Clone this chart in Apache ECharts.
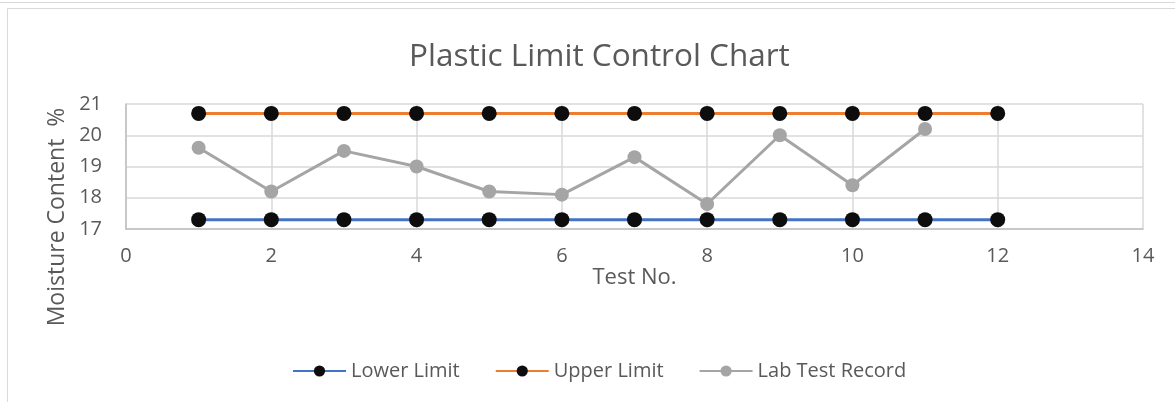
<!DOCTYPE html>
<html>
<head>
<meta charset="utf-8">
<script src="https://cdn.jsdelivr.net/npm/echarts@6/dist/echarts.min.js"></script>
<style>
  html, body { margin: 0; padding: 0; background: #fff; }
  #chart { width: 1175px; height: 402px; }
</style>
</head>
<body>
<div id="chart"></div>
<script>
// Test numbers and measured plastic limit moisture contents (%)
const testNo = [1, 2, 3, 4, 5, 6, 7, 8, 9, 10, 11, 12];
const lowerLimit = [17.3, 17.3, 17.3, 17.3, 17.3, 17.3, 17.3, 17.3, 17.3, 17.3, 17.3, 17.3];
const upperLimit = [20.7, 20.7, 20.7, 20.7, 20.7, 20.7, 20.7, 20.7, 20.7, 20.7, 20.7, 20.7];
const labRecord = [19.6, 18.2, 19.5, 19.0, 18.2, 18.1, 19.3, 17.8, 20.0, 18.4, 20.2];

const pairs = (xs, ys) => ys.map((y, i) => [xs[i], y]);

const textColor = '#595959';
const gridColor = '#d9d9d9';
const fontFamily = 'Open Sans, Noto Sans, sans-serif';

const chart = echarts.init(document.getElementById('chart'), null, { renderer: 'canvas' });

const limitMarker = { symbol: 'circle', symbolSize: 15, itemStyle: { color: '#0d0d0d' } };

chart.setOption({
  animation: false,
  textStyle: { fontFamily: fontFamily, color: textColor },
  graphic: [
    // frame lines around the chart area
    { type: 'line', shape: { x1: 0, y1: 2.5, x2: 1175, y2: 2.5 }, style: { stroke: '#d9d9d9', lineWidth: 1 } },
    { type: 'line', shape: { x1: 7.5, y1: 8.5, x2: 1175, y2: 8.5 }, style: { stroke: '#d9d9d9', lineWidth: 1 } },
    { type: 'line', shape: { x1: 7.5, y1: 8.5, x2: 7.5, y2: 402 }, style: { stroke: '#d9d9d9', lineWidth: 1 } },
    // value axis title
    {
      type: 'text', x: 57, y: 217, rotation: Math.PI / 2,
      style: {
        text: 'Moisture Content  %', fill: textColor,
        font: '23px ' + fontFamily, align: 'center', verticalAlign: 'middle'
      }
    }
  ],
  title: {
    text: 'Plastic Limit Control Chart',
    left: 404,
    top: 36,
    textStyle: { fontFamily: fontFamily, fontSize: 31.5, fontWeight: 'normal', color: textColor }
  },
  legend: {
    top: 356,
    left: 287,
    itemWidth: 53,
    itemHeight: 14,
    itemGap: 35,
    textStyle: { fontSize: 20, color: textColor, fontFamily: fontFamily },
    data: ['Lower Limit', 'Upper Limit', 'Lab Test Record']
  },
  grid: { left: 126, right: 32, top: 104, bottom: 173 },
  xAxis: {
    type: 'value',
    min: 0, max: 14, interval: 2,
    name: 'Test No.',
    nameLocation: 'middle',
    nameGap: 37,
    nameTextStyle: { fontSize: 22, color: textColor },
    axisLine: { show: true, lineStyle: { color: '#bfbfbf', width: 1.5 } },
    axisTick: { show: false },
    axisLabel: { fontSize: 20, color: textColor, margin: 17 },
    splitLine: { show: true, lineStyle: { color: gridColor, width: 1.5 } }
  },
  yAxis: {
    type: 'value',
    min: 17, max: 21, interval: 1,
    axisLine: { show: true, lineStyle: { color: '#bfbfbf', width: 1.5 } },
    axisTick: { show: false },
    axisLabel: { fontSize: 20, color: textColor, margin: 24 },
    splitLine: { show: true, lineStyle: { color: gridColor, width: 1.5 } }
  },
  series: [
    {
      name: 'Lower Limit', type: 'line', data: pairs(testNo, lowerLimit),
      lineStyle: { color: '#4472c4', width: 3 }, color: '#4472c4',
      ...limitMarker
    },
    {
      name: 'Upper Limit', type: 'line', data: pairs(testNo, upperLimit),
      lineStyle: { color: '#ed7d31', width: 3 }, color: '#ed7d31',
      ...limitMarker
    },
    {
      name: 'Lab Test Record', type: 'line', data: pairs(testNo, labRecord),
      color: '#a5a5a5',
      lineStyle: { color: '#a5a5a5', width: 3 },
      symbol: 'circle', symbolSize: 14,
      itemStyle: { color: '#a5a5a5' }
    }
  ]
});
</script>
</body>
</html>
